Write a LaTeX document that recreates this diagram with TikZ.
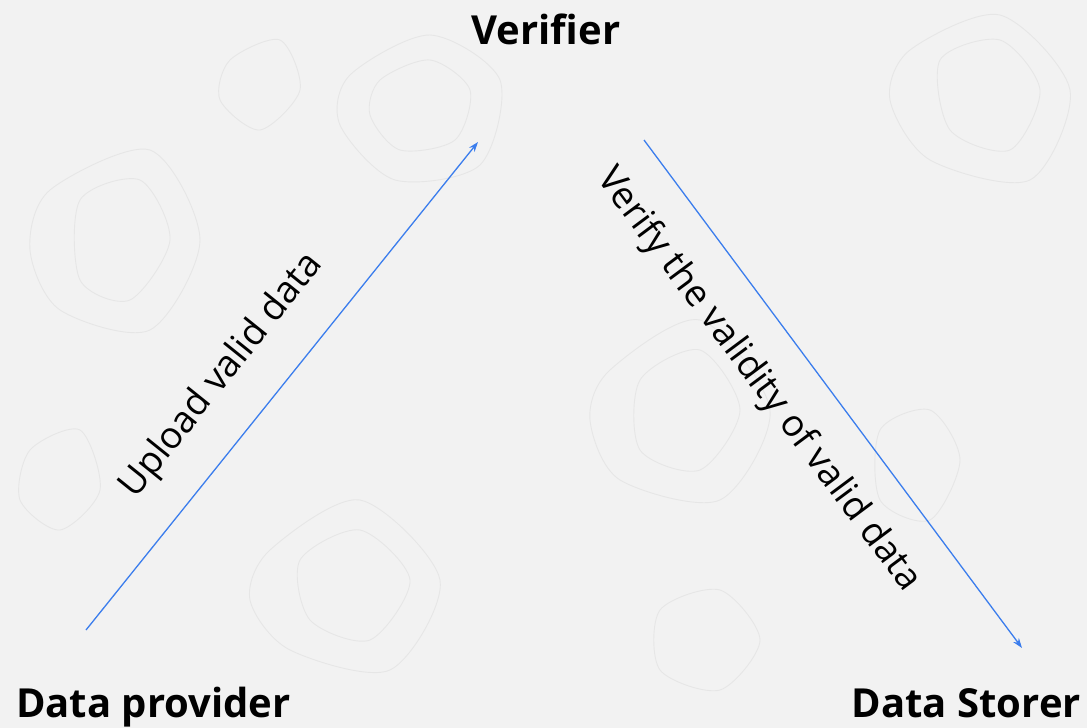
\documentclass[tikz,border=0pt]{standalone}
\usepackage{fontspec}
\setmainfont{Open Sans}
\usetikzlibrary{arrows.meta}
\definecolor{bg}{HTML}{F2F2F2}
\definecolor{contour}{HTML}{E6E6E6}
\definecolor{arrowblue}{HTML}{3B7DED}
\begin{document}
\begin{tikzpicture}[x=1pt,y=-1pt,
  title/.style={font=\fontsize{40}{46}\selectfont\bfseries, text=black, inner sep=0pt},
  lab/.style={font=\fontsize{37}{42}\selectfont, text=black, inner sep=0pt},
  topo/.style={draw=contour, line width=0.9pt},
  conn/.style={draw=arrowblue, line width=1.3pt, -{Stealth[length=10pt,width=7pt]}}]
\fill[bg] (0,0) rectangle (1087,728);
\useasboundingbox (0,0) rectangle (1087,728);
% faint contour lines of the background
\draw[topo] plot[smooth cycle] coordinates {(380,80) (430,60) (470,90) (455,140) (400,150) (370,115)};
\draw[topo] plot[smooth cycle] coordinates {(350,75) (430,35) (500,80) (480,165) (395,180) (340,125)};
\draw[topo] plot[smooth cycle] coordinates {(80,200) (140,180) (170,240) (130,300) (80,280)};
\draw[topo] plot[smooth cycle] coordinates {(50,190) (150,150) (200,240) (150,330) (60,310) (30,250)};
\draw[topo] plot[smooth cycle] coordinates {(940,60) (1000,40) (1040,90) (1010,150) (950,130)};
\draw[topo] plot[smooth cycle] coordinates {(910,50) (1000,15) (1070,90) (1030,180) (930,160) (890,100)};
\draw[topo] plot[smooth cycle] coordinates {(640,380) (700,350) (740,410) (700,470) (640,450)};
\draw[topo] plot[smooth cycle] coordinates {(610,370) (700,320) (770,410) (720,500) (620,480) (590,420)};
\draw[topo] plot[smooth cycle] coordinates {(300,560) (360,530) (410,580) (370,640) (310,620)};
\draw[topo] plot[smooth cycle] coordinates {(270,550) (360,500) (440,580) (390,670) (290,650) (250,600)};
\draw[topo] plot[smooth cycle] coordinates {(880,430) (930,410) (960,460) (930,520) (880,500)};
\draw[topo] plot[smooth cycle] coordinates {(30,450) (80,430) (100,490) (60,530) (20,500)};
\draw[topo] plot[smooth cycle] coordinates {(660,610) (720,590) (760,640) (720,690) (660,670)};
\draw[topo] plot[smooth cycle] coordinates {(230,60) (280,40) (300,90) (260,130) (220,100)};
% diagram
\node[title] (ver) at (546,29) {Verifier};
\node[title, anchor=base west] (prov) at (16,717) {Data provider};
\node[title, anchor=base east] (stor) at (1081,717) {Data Storer};
\coordinate (p1) at (86,630);
\coordinate (v1) at (478,142);
\coordinate (v2) at (644,140);
\coordinate (s2) at (1022,648);
\draw[conn] (p1) -- (v1);
\draw[conn] (v2) -- (s2);
\node[lab, rotate=51.2] (l1) at (222,376) {Upload valid data};
\node[lab, rotate=-53.3] (l2) at (758,380) {Verify the validity of valid data};
\end{tikzpicture}
\end{document}
